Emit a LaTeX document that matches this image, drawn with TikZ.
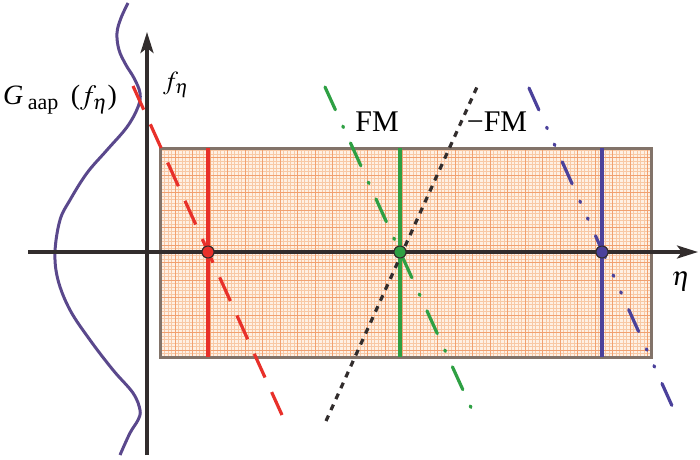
\documentclass[tikz,border=0pt]{standalone}
\usepackage{mathptmx}
\usepackage[no-math]{fontspec}
\setmainfont{Liberation Serif}
\usetikzlibrary{arrows.meta}
\definecolor{gridfill}{RGB}{254,240,228}
\definecolor{gridminor}{RGB}{248,200,165}
\definecolor{gridmajor}{RGB}{241,160,112}
\definecolor{framecol}{RGB}{130,115,105}
\definecolor{axiscol}{RGB}{50,45,45}
\definecolor{redline}{RGB}{232,48,42}
\definecolor{greenline}{RGB}{46,160,67}
\definecolor{blueline}{RGB}{75,65,155}
\definecolor{curvecol}{RGB}{90,72,140}

\begin{document}
\begin{tikzpicture}[x=1pt,y=-1pt,
  dot/.style={circle,draw=axiscol,line width=1pt,inner sep=0pt,minimum size=12pt},
  axisline/.style={draw=axiscol,line width=3.4pt,-{Stealth[length=21pt,width=13pt,inset=5pt]}},
  level/.style={line width=3.6pt},
  slant/.style={line width=3.2pt,line cap=round},
  lbl/.style={inner sep=0pt,font=\fontsize{30}{30}\selectfont}]
\useasboundingbox (0,0) rectangle (700,459);

\coordinate (nw) at (160,148);
\coordinate (se) at (651,357);
\coordinate (xstart) at (28,252);
\coordinate (xend) at (698,252);
\coordinate (ystart) at (147,455);
\coordinate (yend) at (147,32);

\coordinate (redtop) at (133,86);
\coordinate (redbot) at (282,415);
\coordinate (greentop) at (325,87);
\coordinate (greenbot) at (473,412);
\coordinate (bluetop) at (529,88);
\coordinate (bluebot) at (673,408);
\coordinate (blacktop) at (477,87);
\coordinate (blackbot) at (326,421);

\fill[gridfill] (nw) rectangle (se);
\draw[gridminor,line width=0.5pt,step=3.5pt] (nw) grid (se);
\draw[gridmajor,line width=0.8pt,step=17.5pt] (nw) grid (se);
\draw[framecol,line width=3pt] (nw) rectangle (se);

\node[dot,fill=redline] at (208,252)	(reddot) {};
\node[dot,fill=greenline] at (400,252)	(greendot) {};
\node[dot,fill=blueline] at (602,252)	(bluedot) {};

\draw[level,redline] (reddot |- nw) -- (reddot |- se);
\draw[level,greenline] (greendot |- nw) -- (greendot |- se);
\draw[level,blueline] (bluedot |- nw) -- (bluedot |- se);

\draw[curvecol,line width=3pt] plot[smooth,tension=0.6] coordinates {(128,3) (121,18) (117,33) (119,50) (126,65) (134,78) (140,93) (138,107) (127,127) (107,150) (87,173) (70,200) (60,220) (55,252) (58,280) (70,310) (90,340) (113,370) (133,393) (140,410) (138,420) (130,433) (120,455)};

\draw[axisline] (xstart) -- (xend);
\draw[axisline] (ystart) -- (yend);

\draw[slant,redline,line cap=butt,dash pattern=on 26pt off 16pt] (redtop) -- (redbot);
\draw[slant,greenline,dash pattern=on 25pt off 18pt on 1.5pt off 17pt] (greentop) -- (greenbot);
\draw[slant,blueline,dash pattern=on 24pt off 19pt on 1.5pt off 17pt on 1.5pt off 18pt] (bluetop) -- (bluebot);
\draw[slant,axiscol,line cap=butt,dash pattern=on 6pt off 6pt] (blackbot) -- (blacktop);

\node[dot,fill=redline] at (reddot) {};
\node[dot,fill=greenline] at (greendot) {};
\node[dot,fill=blueline] at (bluedot) {};

\node[inner sep=0pt,font=\fontsize{28}{28}\selectfont] at (60,100) (gaap) {\textit{G}\,\raisebox{-5pt}{\fontsize{22}{22}\selectfont aap}\;\,($f_{\eta}$)};
\node[inner sep=0pt,font=\fontsize{26}{26}\selectfont] at (176,85) (feta) {$f_{\eta}$};
\node[inner sep=0pt,font=\fontsize{27}{27}\selectfont] at (681,281) (eta) {$\eta$};
\node[lbl] at (377,122) (fm) {FM};
\node[lbl] at (497,122) (minusfm) {−FM};
\end{tikzpicture}
\end{document}
